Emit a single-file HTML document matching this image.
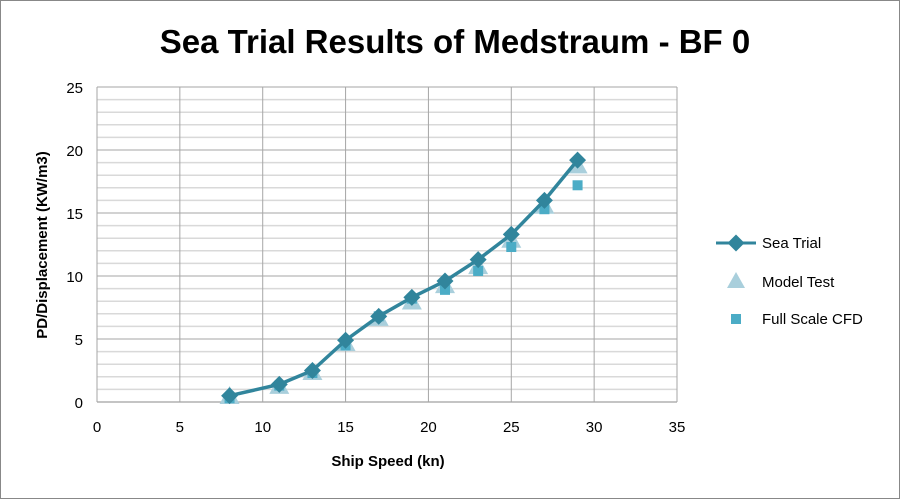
<!DOCTYPE html>
<html><head><meta charset="utf-8"><style>
html,body{margin:0;padding:0;background:#fff;}
#wrap{width:900px;height:499px;position:relative;font-family:"Liberation Sans",sans-serif;}
</style></head><body>
<div id="wrap">
<svg id="chart" width="900" height="499">
<rect x="0.5" y="0.5" width="899" height="498" fill="#fff" stroke="#888"/>
<text x="455" y="53" text-anchor="middle" font-size="33" font-weight="bold" fill="#000">Sea Trial Results of Medstraum - BF 0</text>
<g id="grid"></g><g id="axes"></g><g id="series"></g>
<text x="388" y="466" text-anchor="middle" font-size="15" font-weight="bold">Ship Speed (kn)</text>
<text transform="translate(47,245) rotate(-90)" text-anchor="middle" font-size="15" font-weight="bold">PD/Displacement (KW/m3)</text>
<g>
<g><line x1="716" y1="243" x2="756" y2="243" stroke="#31859c" stroke-width="3"/><rect x="730" y="237" width="12" height="12" fill="#31859c" transform="rotate(45 736 243)"/><text x="762" y="248" font-size="15">Sea Trial</text></g>
<g><polygon points="736,272 745,288 727,288" fill="#a9cfdc"/><text x="762" y="287" font-size="15">Model Test</text></g>
<g><rect x="731" y="314" width="10" height="10" fill="#4bacc6"/><text x="762" y="324" font-size="15">Full Scale CFD</text></g>
</g>
</svg></div>
<script>
const speeds=[8,11,13,15,17,19,21,23,25,27,29];
const seaTrial=[0.5,1.4,2.5,4.9,6.8,8.3,9.6,11.3,13.3,16.0,19.2];
const modelTest=[0.4,1.2,2.3,4.6,6.6,7.9,9.2,10.7,12.8,15.5,18.7];
const cfd=[0.3,1.3,2.3,4.5,6.8,8.2,8.9,10.4,12.3,15.3,17.2];
const xTicks=[0,5,10,15,20,25,30,35];
const yTicks=[0,5,10,15,20,25];
const X0=97,X1=677,Y0=402,Y1=87,XMAX=35,YMAX=25;
const xs=v=>X0+(X1-X0)*v/XMAX, ys=v=>Y0-(Y0-Y1)*v/YMAX;
const NS="http://www.w3.org/2000/svg";
function mk(t,a,p){const e=document.createElementNS(NS,t);for(const k in a)e.setAttribute(k,a[k]);p.appendChild(e);return e;}
const grid=document.getElementById('grid'),axes=document.getElementById('axes'),ser=document.getElementById('series');
for(let v=1;v<YMAX;v++){if(v%5===0)continue;const l=mk('line',{x1:X0,x2:X1,y1:ys(v),y2:ys(v),stroke:'#d9d9d9','stroke-width':1.5},grid);

}
yTicks.forEach(v=>{const l=mk('line',{x1:X0,x2:X1,y1:ys(v),y2:ys(v),stroke:v===0?'#888':'#a6a6a6','stroke-width':1},grid);


const t=mk('text',{x:X0-14,y:ys(v)+6,'text-anchor':'end','font-size':15,fill:'#000'},axes);t.textContent=v;

});
xTicks.forEach(v=>{const l=mk('line',{x1:xs(v),x2:xs(v),y1:Y1,y2:Y0,stroke:'#a6a6a6','stroke-width':1},grid);


const t=mk('text',{x:xs(v),y:Y0+30,'text-anchor':'middle','font-size':15,fill:'#000'},axes);t.textContent=v;

});
modelTest.forEach((v,i)=>{const x=xs(speeds[i]),y=ys(v);const p=mk('polygon',{points:`${x},${y-11} ${x+10},${y+7} ${x-10},${y+7}`,fill:'#a9cfdc'},ser);

});
cfd.forEach((v,i)=>{const r=mk('rect',{x:xs(speeds[i])-5,y:ys(v)-5,width:10,height:10,fill:'#4bacc6'},ser);

});
const pl=mk('polyline',{points:seaTrial.map((v,i)=>xs(speeds[i])+','+ys(v)).join(' '),fill:'none',stroke:'#31859c','stroke-width':3.5,'stroke-linejoin':'round'},ser);


seaTrial.forEach((v,i)=>{const x=xs(speeds[i]),y=ys(v);const r=mk('rect',{x:x-6,y:y-6,width:12,height:12,fill:'#31859c',transform:`rotate(45 ${x} ${y})`},ser);

});
</script>
</body></html>
